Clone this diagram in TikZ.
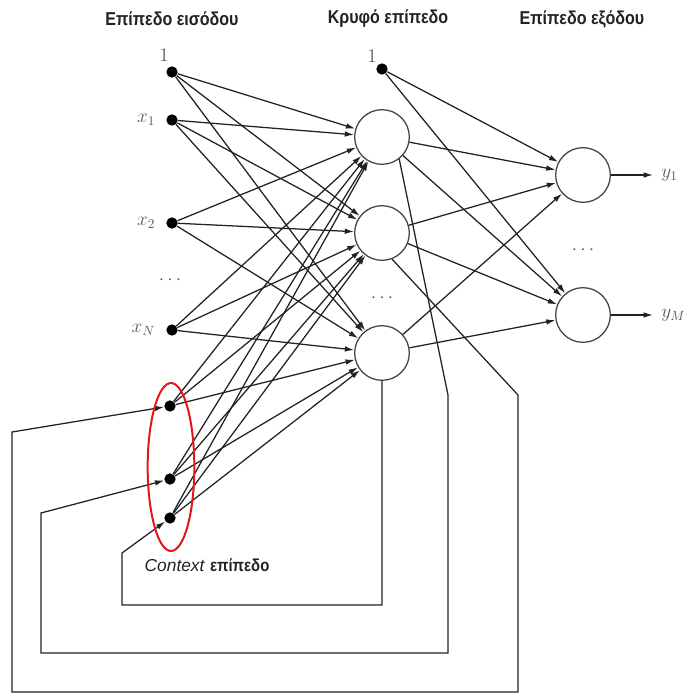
\documentclass[tikz,border=0pt]{standalone}
\usepackage{fontspec}
\newfontfamily\hdrfont{Liberation Sans}[FakeStretch=0.86]
\newfontfamily\ctxfont{Liberation Sans}
\usetikzlibrary{arrows.meta,positioning,shapes.geometric}
\definecolor{ink}{HTML}{222222}
\definecolor{ctxred}{HTML}{E3161B}

\begin{document}
\begin{tikzpicture}[x=0.75pt,y=-0.75pt,>={Latex[length=7pt,width=4.2pt]},
  conn/.style={draw=ink,line width=0.95pt,->},
  dot/.style={circle,fill=black,inner sep=0pt,minimum size=8.5pt},
  unit/.style={circle,draw=ink!85,line width=0.95pt,minimum size=41pt,inner sep=0pt},
  lbl/.style={text=ink!75,font=\Large,inner sep=0pt},
  hdr/.style={text=ink,font=\hdrfont\bfseries\fontsize{14}{16}\selectfont}]
\useasboundingbox (0,0) rectangle (683,693);

% layer titles
\node[hdr] (hin) at (172,19) {Επίπεδο εισόδου};
\node[hdr] (hhid) at (388,19) {Κρυφό επίπεδο};
\node[hdr] (hout) at (582,19) {Επίπεδο εξόδου};

% input and context units
\node[dot] (in0) at (172,72) {};
\node[dot] (in1) at (172,120) {};
\node[dot] (in2) at (172,223) {};
\node[dot] (inN) at (172,330) {};
\node[dot] (ctx1) at (170,406) {};
\node[dot] (ctx2) at (170,479) {};
\node[dot] (ctx3) at (170,518) {};
\node[lbl] (l0) at (164,55) {$1$};
\node[lbl,left=8pt of in1] (l1) {$x_1$};
\node[lbl,left=8pt of in2] (l2) {$x_2$};
\node[lbl,left=8pt of inN] (lN) {$x_N$};
\node[lbl] (din) at (170,280) {$\cdots$};

% hidden layer
\node[dot] (hb) at (382,69) {};
\node[lbl] (lb) at (372,56) {$1$};
\node[unit] (hid1) at (382,137) {};
\node[unit] (hid2) at (382,233) {};
\node[unit] (hid3) at (382,353) {};
\node[lbl] (dhid) at (382,298) {$\cdots$};

% output layer
\node[unit] (out1) at (583,175) {};
\node[unit] (out2) at (583,315) {};
\node[lbl] (dout) at (583,250) {$\cdots$};
\coordinate (y1) at (653,175);
\coordinate (yM) at (653,315);
\node[lbl,right=6pt of y1] (ly1) {$y_1$};
\node[lbl,right=6pt of yM] (lyM) {$y_M$};

\foreach \s in {in0,in1,in2,inN,ctx1,ctx2,ctx3}
  \foreach \t in {hid1,hid2,hid3}
    \draw[conn] (\s) -- (\t);
\foreach \s in {hb,hid1,hid2,hid3}
  \foreach \t in {out1,out2}
    \draw[conn] (\s) -- (\t);
\draw[conn] (out1) -- (y1);
\draw[conn] (out2) -- (yM);

% copies back to the context units
\draw[conn] (hid3.south) -- (382,605) -- (122,605) -- (122,553) -- (ctx3);
\draw[conn] (hid1.-52) -- (448,395) -- (448,653) -- (41,653) -- (41,513) -- (ctx2);
\draw[conn] (hid2.-69) -- (518,395) -- (518,692) -- (12,692) -- (12,432) -- (ctx1);

\node[ellipse,draw=ctxred,line width=1.5pt,minimum width=35pt,minimum height=126pt,inner sep=0pt] (ctx) at (171,467) {};
\node[anchor=west,text=ink,font=\fontsize{13}{15}\selectfont] (lctx) at (140,565) {{\ctxfont\itshape Context} {\hdrfont\bfseries επίπεδο}};
\end{tikzpicture}
\end{document}
